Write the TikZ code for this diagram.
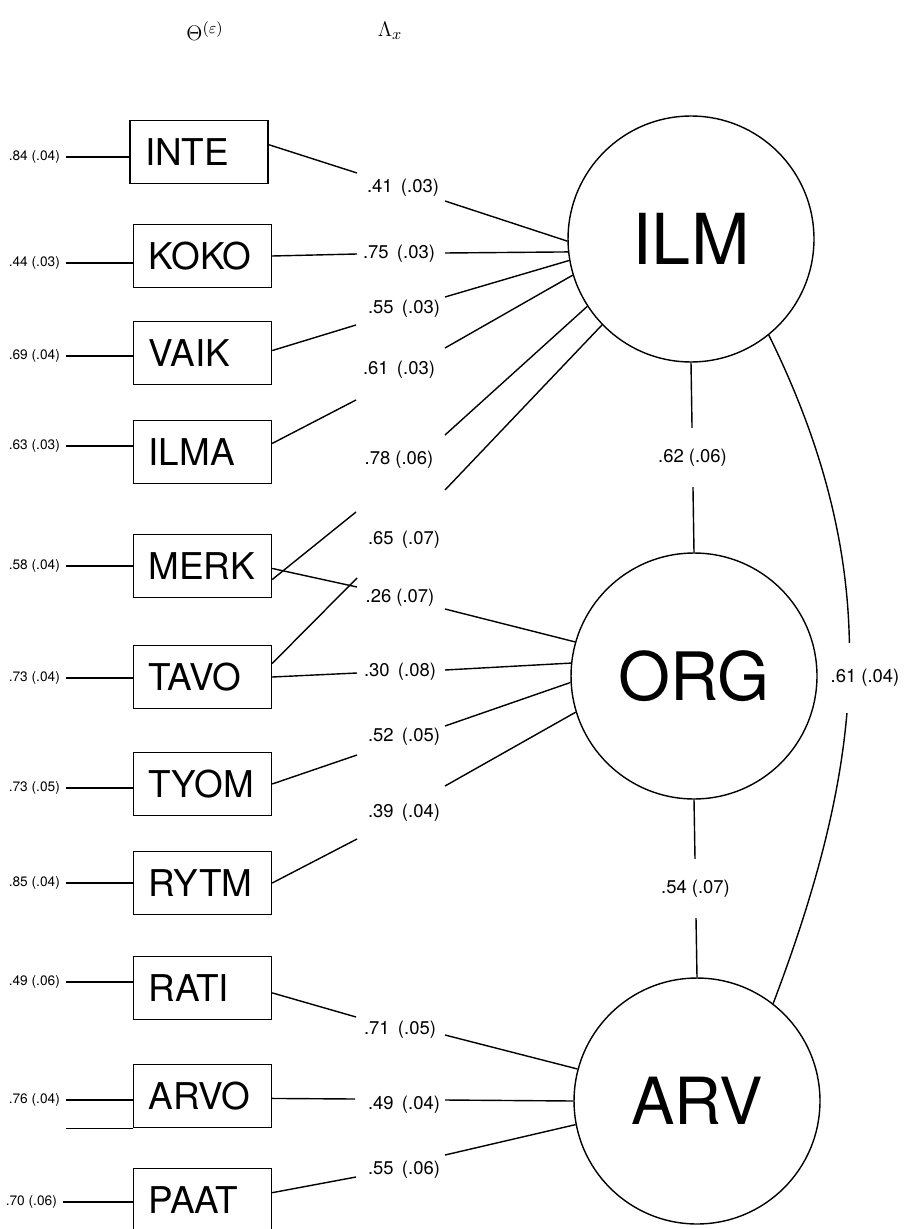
\documentclass[tikz,border=0pt]{standalone}
\usepackage{fontspec}
\setmainfont{TeX Gyre Heros}
\begin{document}
\begin{tikzpicture}[x=0.02cm,y=-0.02cm,
  every path/.style={line width=0.8pt},
  obsbox/.style={draw, line width=0.8pt, minimum width=2.76cm, minimum height=1.26cm,
    text width=2.16cm, align=left, inner xsep=0.3cm, font=\fontsize{21}{21}\selectfont},
  latent/.style={circle, draw, line width=0.8pt, minimum size=4.92cm, inner sep=0pt},
  load/.style={font=\fontsize{10.5}{12}\selectfont, inner sep=1pt},
  errlab/.style={font=\fontsize{7.8}{9}\selectfont, anchor=east, inner sep=0pt, outer xsep=3.5pt},
  hdr/.style={font=\fontsize{13}{15}\selectfont}
]
\useasboundingbox (0,0) rectangle (908,1229);

% header
\node[hdr] (theta) at (205,31) {$\Theta^{(\varepsilon)}$};
\node[hdr] (lambda) at (390,31) {$\Lambda_x$};

% observed boxes
\node[obsbox] (INTE) at (199,152) {INTE};
\node[obsbox] (KOKO) at (202.5,256) {KOKO};
\node[obsbox] (VAIK) at (202.5,353) {VAIK};
\node[obsbox] (ILMA) at (202.5,452) {ILMA};
\node[obsbox] (MERK) at (202.5,566) {MERK};
\node[obsbox] (TAVO) at (202.5,677) {TAVO};
\node[obsbox] (TYOM) at (202.5,784) {TYOM};
\node[obsbox] (RYTM) at (202.5,883) {RYTM};
\node[obsbox] (RATI) at (202.5,988) {RATI};
\node[obsbox] (ARVO) at (202.5,1096) {ARVO};
\node[obsbox] (PAAT) at (202.5,1200) {PAAT};

% latent circles
\node[latent, font=\fontsize{40}{40}\selectfont] (ILM) at (691,239) {ILM};
\node[latent, font=\fontsize{38}{38}\selectfont] (ORG) at (694,676) {ORG};
\node[latent, font=\fontsize{37}{37}\selectfont] (ARV) at (697,1101) {ARV};

% error variances
\node[errlab] (eINTE) at (66,157) {.84 (.04)};
\node[errlab] (eKOKO) at (66,263) {.44 (.03)};
\node[errlab] (eVAIK) at (66,356) {.69 (.04)};
\node[errlab] (eILMA) at (66,446) {.63 (.03)};
\node[errlab] (eMERK) at (66,566) {.58 (.04)};
\node[errlab] (eTAVO) at (66,678) {.73 (.04)};
\node[errlab] (eTYOM) at (66,788) {.73 (.05)};
\node[errlab] (eRYTM) at (66,883) {.85 (.04)};
\node[errlab] (eRATI) at (66,982) {.49 (.06)};
\node[errlab] (eARVO) at (66,1100) {.76 (.04)};
\node[errlab] (ePAAT) at (63,1202) {.70 (.06)};
\foreach \b in {INTE,KOKO,VAIK,ILMA,MERK,TAVO,TYOM,RYTM,RATI,ARVO,PAAT}
  \draw (e\b.east) -- (\b.west |- e\b.east);
\draw (ARVO.south west) -- (ARVO.south west -| eARVO.east);

% loading labels
\node[load] (l1) at (403,188) {.41\hspace{0.45em}(.03)};
\node[load] (l2) at (399,254) {.75\hspace{0.45em}(.03)};
\node[load] (l3) at (404,309) {.55\hspace{0.45em}(.03)};
\node[load] (l4) at (399,370) {.61\hspace{0.45em}(.03)};
\node[load] (l5) at (399,460) {.78 (.06)};
\node[load] (l6) at (404,540) {.65\hspace{0.45em}(.07)};
\node[load] (l7) at (400,598) {.26 (.07)};
\node[load] (l8) at (400,672) {.30\hspace{0.45em}(.08)};
\node[load] (l9) at (404,737) {.52\hspace{0.45em}(.05)};
\node[load] (l10) at (404,813) {.39\hspace{0.45em}(.04)};
\node[load] (l11) at (400,1030) {.71\hspace{0.45em}(.05)};
\node[load] (l12) at (404,1105) {.49\hspace{0.45em}(.04)};
\node[load] (l13) at (404,1170) {.55\hspace{0.45em}(.06)};

% gap end points of the loading lines
\coordinate (a1) at (357,173);  \coordinate (b1) at (445,201);
\coordinate (a2) at (357,254);  \coordinate (b2) at (445,253);
\coordinate (a3) at (356,325);  \coordinate (b3) at (445,297);
\coordinate (a4) at (356,400);  \coordinate (b4) at (445,348);
\coordinate (a5) at (356,512);  \coordinate (b5) at (445,435);
\coordinate (a6) at (357,578);  \coordinate (b6) at (445,490);
\coordinate (a7) at (357,587);  \coordinate (b7) at (445,609);
\coordinate (a8) at (357,673);  \coordinate (b8) at (445,670);
\coordinate (a9) at (357,755);  \coordinate (b9) at (445,726);
\coordinate (a10) at (357,839); \coordinate (b10) at (445,786);
\coordinate (a11) at (356,1017);\coordinate (b11) at (445,1035);
\coordinate (a12) at (355,1099);\coordinate (b12) at (445,1100);
\coordinate (a13) at (356,1177);\coordinate (b13) at (445,1155);

\draw (INTE.6) -- (a1);   \draw (b1) -- (ILM.181);
\draw (KOKO.east) -- (a2);\draw (b2) -- (ILM.186);
\draw (VAIK.2) -- (a3);   \draw (b3) -- (ILM.190);
\draw (ILMA.7) -- (a4);   \draw (b4) -- (ILM.197);
\draw (MERK.-11) -- (a5); \draw (b5) -- (ILM.213);
\draw (TAVO.11) -- (a6);  \draw (b6) -- (ILM.224);
\draw (MERK.-2) -- (a7);  \draw (b7) -- (ORG.164);
\draw (TAVO.east) -- (a8);\draw (b8) -- (ORG.174);
\draw (TYOM.east) -- (a9);\draw (b9) -- (ORG.183);
\draw (RYTM.east) -- (a10);\draw (b10) -- (ORG.197);
\draw (RATI.-4) -- (a11); \draw (b11) -- (ARV.165);
\draw (ARVO.-2) -- (a12); \draw (b12) -- (ARV.180);
\draw (PAAT.6) -- (a13);  \draw (b13) -- (ARV.191);

% correlations between latents
\draw (ILM.south) -- node[load, fill=white, inner ysep=12pt] (c1) {.62 (.06)} (ORG.north);
\draw (ORG.south) -- node[load, fill=white, inner ysep=12pt] (c2) {.54 (.07)} (ARV.north);
\draw (ILM.-51) .. controls (886,573) and (865,761) .. (ARV.52);
\node[load, fill=white, inner ysep=15pt] (c3) at (865,678) {.61 (.04)};
\end{tikzpicture}
\end{document}
